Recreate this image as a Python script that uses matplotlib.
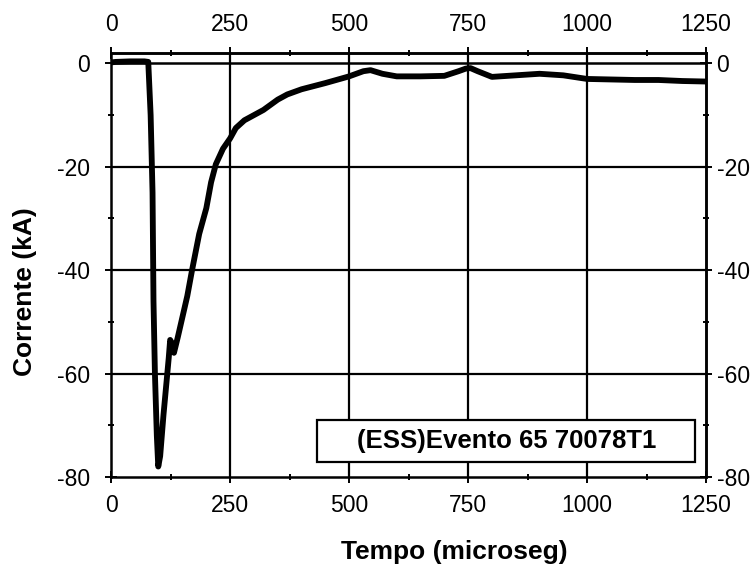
import matplotlib.pyplot as plt
from matplotlib.patches import Rectangle
from matplotlib.ticker import MultipleLocator

# Corrente do evento (tempo em microseg, corrente em kA)
tempo = [0, 10, 40, 70, 78, 83, 87, 89, 92, 96, 99, 103, 110, 116, 121, 124,
         127, 132, 140, 150, 160, 170, 185, 200, 210, 220, 235, 250, 262,
         280, 300, 320, 350, 370, 400, 450, 500, 530, 545, 570, 600, 650,
         700, 730, 745, 755, 770, 800, 850, 900, 950, 1000, 1050, 1100,
         1150, 1200, 1250]
corrente = [0.2, 0.3, 0.4, 0.4, 0.3, -10, -25, -46, -60, -72, -78, -76, -68,
            -62, -57, -53.5, -54, -56, -53, -49, -45, -40, -33, -28, -23,
            -19.5, -16.5, -14.5, -12.5, -11, -10, -9, -7, -6, -5, -3.8, -2.5,
            -1.5, -1.3, -2.0, -2.5, -2.5, -2.4, -1.5, -1.0, -0.9, -1.5, -2.6,
            -2.3, -2.0, -2.3, -3.0, -3.1, -3.2, -3.2, -3.4, -3.5]

x_ticks = [0, 250, 500, 750, 1000, 1250]
y_ticks = [0, -20, -40, -60, -80]
rotulo = '(ESS)Evento 65 70078T1'

plt.rcParams['font.family'] = ['Liberation Sans', 'DejaVu Sans']
plt.rcParams['axes.unicode_minus'] = False

fig = plt.figure(figsize=(7.56, 5.65), dpi=100)
ax = fig.add_axes([0.147, 0.156, 0.787, 0.750])

# grade e linha do zero
for xv in x_ticks[1:-1]:
    ax.axvline(xv, color='black', lw=1.6, zorder=1)
for yv in y_ticks[1:-1]:
    ax.axhline(yv, color='black', lw=1.6, zorder=1)
ax.axhline(0, color='black', lw=1.8, zorder=1)

ax.plot(tempo, corrente, color='black', lw=4.2, solid_capstyle='round',
        solid_joinstyle='round', zorder=3)

ax.set_xlim(0, 1250)
ax.set_ylim(-80, 2)
ax.set_xticks(x_ticks)
ax.set_yticks(y_ticks)
ax.xaxis.set_minor_locator(MultipleLocator(125))
ax.yaxis.set_minor_locator(MultipleLocator(10))
ax.tick_params(which='both', direction='inout', width=1.4, labelsize=16.5)
ax.tick_params(which='major', length=8)
ax.tick_params(which='minor', length=5)
ax.tick_params(axis='x', pad=8)
ax.tick_params(axis='y', pad=11)

# eixos de cima e da direita com os mesmos valores
topo = ax.secondary_xaxis('top')
topo.set_xticks(x_ticks)
topo.xaxis.set_minor_locator(MultipleLocator(125))
topo.tick_params(which='both', direction='inout', width=1.4, labelsize=16.5,
                 pad=8)
topo.tick_params(which='major', length=8)
topo.tick_params(which='minor', length=5)

direita = ax.secondary_yaxis('right')
direita.set_yticks(y_ticks)
direita.yaxis.set_minor_locator(MultipleLocator(10))
direita.tick_params(which='both', direction='inout', width=1.4,
                    labelsize=16.5, pad=3.5)
direita.tick_params(which='major', length=8)
direita.tick_params(which='minor', length=5)

for a in (ax, topo, direita):
    for sp in a.spines.values():
        sp.set_linewidth(1.8)

fig.text(454 / 756, 1 - 552 / 565, 'Tempo (microseg)', ha='center',
         va='center', fontsize=19, fontweight='bold')
fig.text(25 / 756, 1 - 292 / 565, 'Corrente (kA)', ha='center', va='center',
         rotation=90, fontsize=19, fontweight='bold')

ax.add_patch(Rectangle((0.346, 0.035), 0.636, 0.099, transform=ax.transAxes,
                       fc='white', ec='black', lw=1.6, zorder=5))
ax.text(0.664, 0.085, rotulo, transform=ax.transAxes, ha='center',
        va='center', fontsize=18.5, fontweight='bold', zorder=6)

fig.savefig('out.png', dpi=100)
